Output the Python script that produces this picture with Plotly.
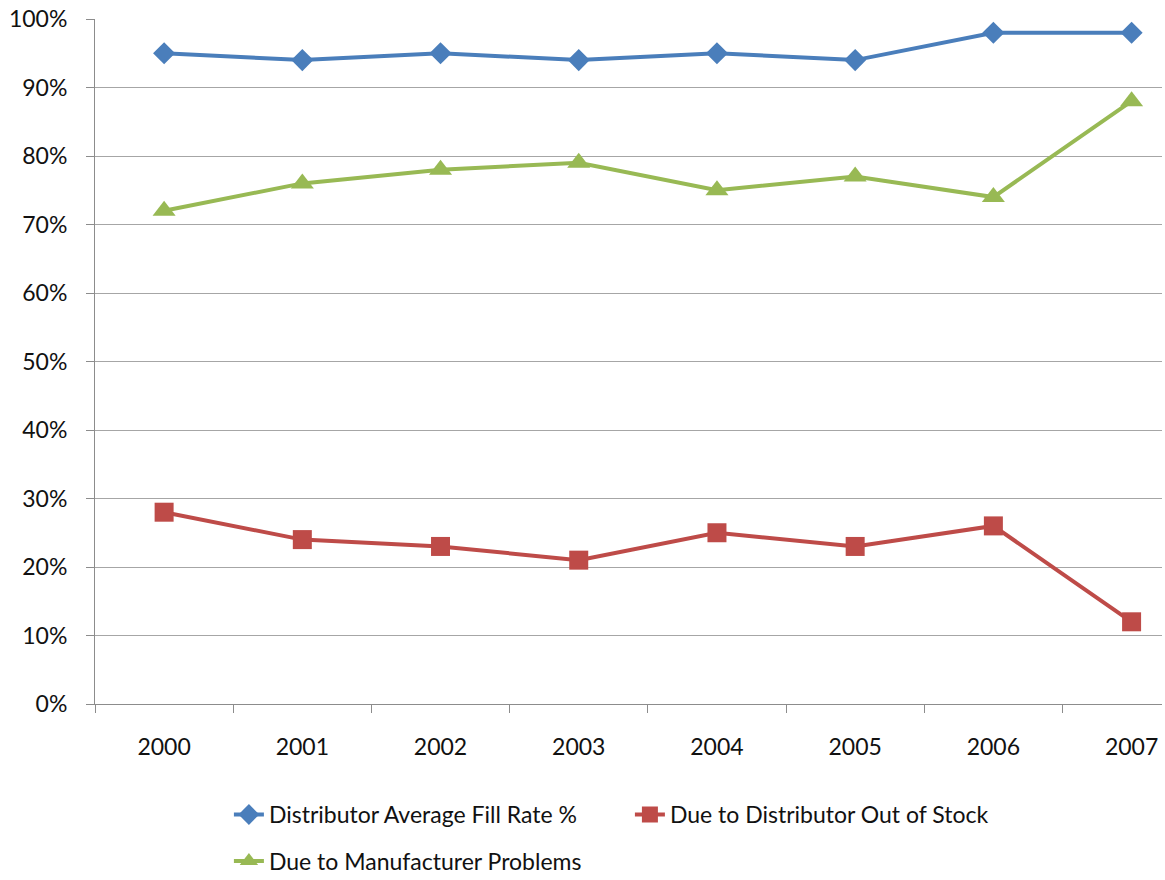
import plotly.graph_objects as go

years = ["2000", "2001", "2002", "2003", "2004", "2005", "2006", "2007"]
fill_rate = [95, 94, 95, 94, 95, 94, 98, 98]
out_of_stock = [28, 24, 23, 21, 25, 23, 26, 12]
manufacturer = [72, 76, 78, 79, 75, 77, 74, 88]

series = [
    ("Distributor Average Fill Rate %", fill_rate, "#4a7ebb", "diamond", 17, "legend"),
    ("Due to Distributor Out of Stock", out_of_stock, "#be4b48", "square", 19, "legend"),
    ("Due to Manufacturer Problems", manufacturer, "#98b954", "triangle-up", 20, "legend2"),
]

fig = go.Figure()
for name, vals, color, sym, size, leg in series:
    fig.add_trace(go.Scatter(
        x=years, y=vals, name=name, mode="lines+markers",
        line=dict(color=color, width=4),
        marker=dict(symbol=sym, size=size, color=color, line=dict(width=0)),
        legend=leg,
    ))

font_family = "Lato, Carlito, Calibri, 'Open Sans', sans-serif"
legend_common = dict(
    orientation="h", xanchor="left", yanchor="top",
    entrywidth=356, font=dict(size=23, family=font_family, color="#111111"),
    traceorder="normal", bgcolor="rgba(0,0,0,0)",
)

fig.update_layout(
    width=1165, height=880,
    margin=dict(l=95, r=3, t=19, b=176, autoexpand=False),
    paper_bgcolor="white", plot_bgcolor="white",
    font=dict(family=font_family, size=23, color="#111111"),
    showlegend=True,
    legend=dict(x=0.1255, y=-0.130, **legend_common),
    legend2=dict(x=0.1255, y=-0.198, **legend_common),
)
fig.update_xaxes(
    type="category", range=[-0.5, 7.22],
    showgrid=False, showline=True, linecolor="#8c8c8c", linewidth=1,
    ticks="outside", tickson="boundaries", ticklen=8, tickcolor="#8c8c8c",
    ticklabelstandoff=22, tickfont=dict(size=23),
)
fig.update_yaxes(
    range=[0, 100], dtick=10, ticksuffix="%",
    showgrid=True, gridcolor="#a6a6a6", gridwidth=1,
    showline=True, linecolor="#8c8c8c", linewidth=1,
    ticks="outside", ticklen=8, tickcolor="#8c8c8c",
    ticklabelstandoff=14, tickfont=dict(size=23), zeroline=False,
)

fig.write_html("out.html")
